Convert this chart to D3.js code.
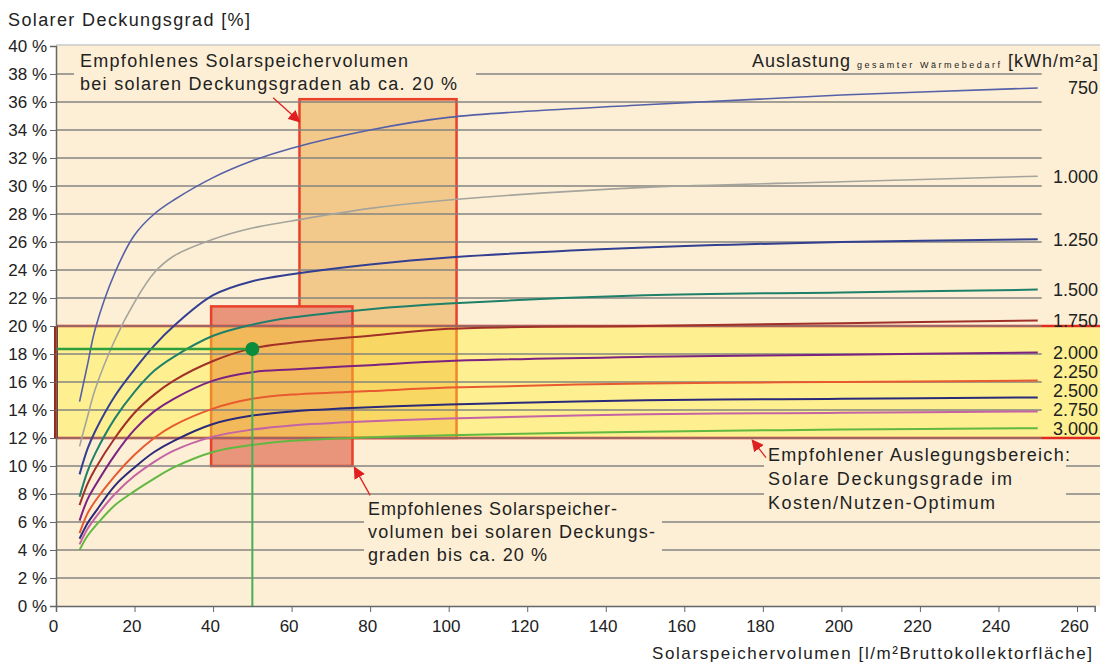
<!DOCTYPE html>
<html>
<head>
<meta charset="utf-8">
<script src="https://cdn.jsdelivr.net/npm/d3@7"></script>
<style>
  body { margin: 0; background: #fff; }
  text { font-family: "Liberation Sans", Arial, sans-serif; fill: #222; }
  .narrow { font-family: "Liberation Sans Narrow", "Arial Narrow", "Liberation Sans", sans-serif; }
</style>
</head>
<body>
<div id="chart"></div>
<script>
// storage volume [l/m² collector area] where the curves were read
const volumes = [6, 8, 10, 15, 20, 25, 30, 40, 50, 60, 80, 100, 150, 200, 250];

// solar fraction [%] per load (kWh/m²a)
const dg750  = [14.6, 17.2, 19.8, 23.8, 26.5, 28.0, 29.0, 30.6, 31.8, 32.7, 34.0, 34.9, 35.8, 36.5, 37.0];
const dg1000 = [11.4, 13.5, 15.5, 19.0, 21.7, 23.8, 25.0, 26.2, 27.0, 27.5, 28.4, 29.0, 29.9, 30.3, 30.7];
const dg1250 = [9.4, 11.2, 12.5, 15.0, 16.9, 18.6, 20.0, 22.2, 23.2, 23.7, 24.4, 24.9, 25.6, 26.0, 26.2];
const dg1500 = [7.8, 9.6, 10.9, 13.4, 15.3, 16.8, 17.8, 19.3, 20.1, 20.6, 21.2, 21.6, 22.2, 22.4, 22.6];
const dg1750 = [7.2, 8.7, 9.8, 12.0, 13.8, 15.1, 16.1, 17.5, 18.4, 18.8, 19.3, 19.8, 20.0, 20.2, 20.4];
const dg2000 = [6.1, 7.6, 8.6, 10.8, 12.6, 13.9, 14.8, 16.1, 16.7, 16.9, 17.2, 17.5, 17.8, 17.95, 18.1];
const dg2250 = [5.2, 6.6, 7.5, 9.3, 10.8, 12.0, 12.9, 14.1, 14.8, 15.1, 15.35, 15.6, 15.9, 16.0, 16.1];
const dg2500 = [4.8, 5.9, 6.7, 8.6, 9.9, 11.0, 11.8, 13.0, 13.6, 13.9, 14.2, 14.4, 14.7, 14.8, 14.9];
const dg2750 = [4.4, 5.5, 6.3, 8.0, 9.3, 10.3, 11.1, 12.1, 12.6, 12.9, 13.2, 13.4, 13.7, 13.8, 13.9];
const dg3000 = [4.0, 5.0, 5.7, 7.2, 8.2, 9.1, 9.9, 11.0, 11.5, 11.8, 12.05, 12.2, 12.45, 12.6, 12.7];

const loadLabels = ["750", "1.000", "1.250", "1.500", "1.750", "2.000", "2.250", "2.500", "2.750", "3.000"];
const seriesValues = [dg750, dg1000, dg1250, dg1500, dg1750, dg2000, dg2250, dg2500, dg2750, dg3000];
const lineColors = ["#5560a8", "#a4a49c", "#333f90", "#1f806a", "#a03028", "#7c2280", "#e85a30", "#2a2a78", "#c464a4", "#62b840"];

// recommended ranges
const bandRange = [12, 20];                      // Deckungsgrad band
const boxHigh = {x: [62, 102], y: [12, 36.2]};   // volume for fractions from ~20 %
const boxLow = {x: [39.5, 75.5], y: [10, 21.4]}; // volume for fractions up to ~20 %
const example = {x: 50, y: 18.36};               // marked design point

const yTicks = d3.range(0, 41, 2);
const xTicks = d3.range(0, 261, 20);

const width = 1100, height = 664;
const bg = "#fdefd5";

const x = d3.scaleLinear().domain([0, 260]).range([56, 1077]);
const y = d3.scaleLinear().domain([0, 40]).range([606, 46]);

const svg = d3.select("#chart").append("svg")
  .attr("width", width)
  .attr("height", height);

// plot background
svg.append("rect")
  .attr("x", x(0)).attr("y", y(40) - 1)
  .attr("width", width - x(0)).attr("height", y(0) - y(40) + 1)
  .attr("fill", bg);
svg.append("line")
  .attr("x1", x(0)).attr("x2", width)
  .attr("y1", y(40) - 1).attr("y2", y(40) - 1)
  .attr("stroke", "#c8c8c8").attr("stroke-width", 1.5);

// recommended storage boxes
[boxHigh, boxLow].forEach((b, i) => {
  svg.append("rect")
    .attr("x", x(b.x[0])).attr("y", y(b.y[1]))
    .attr("width", x(b.x[1]) - x(b.x[0]))
    .attr("height", y(b.y[0]) - y(b.y[1]))
    .attr("fill", i == 0 ? "#f3c98b" : "#e9957c")
    .attr("stroke", "#e8402a")
    .attr("stroke-width", 2.5);
});

// recommended band (yellow, over the boxes)
svg.append("rect")
  .attr("x", x(0)).attr("y", y(bandRange[1]))
  .attr("width", width - x(0))
  .attr("height", y(bandRange[0]) - y(bandRange[1]))
  .attr("fill", "rgb(255,240,40)")
  .attr("fill-opacity", 0.4);
bandRange.forEach(v => {
  svg.append("line")
    .attr("x1", x(0)).attr("x2", width)
    .attr("y1", y(v)).attr("y2", y(v))
    .attr("stroke", "#e02a20").attr("stroke-width", 2.5);
});

// grid lines
svg.append("g")
  .selectAll("line")
  .data(yTicks.filter(d => d > 0 && d < 40))
  .enter().append("line")
    .attr("x1", x(0))
    .attr("x2", d => d >= 12 ? x(251) : width)
    .attr("y1", d => y(d)).attr("y2", d => y(d))
    .attr("stroke", "#808080")
    .attr("stroke-opacity", 0.72)
    .attr("stroke-width", 2);

// left edge of the band
svg.append("line")
  .attr("x1", x(0)).attr("x2", x(0))
  .attr("y1", y(bandRange[1])).attr("y2", y(bandRange[0]))
  .attr("stroke", "#9c2418").attr("stroke-width", 4);

// text backgrounds that cut the grid
const textBoxes = [[74, 47, 402, 49], [364, 498, 298, 74], [764, 444, 302, 72]];
textBoxes.forEach(r => {
  svg.append("rect").attr("x", r[0]).attr("y", r[1]).attr("width", r[2]).attr("height", r[3]).attr("fill", bg);
});

// curves
const line = d3.line()
  .x((d, i) => x(volumes[i]))
  .y(d => y(d))
  .curve(d3.curveCatmullRom.alpha(0.5));

svg.append("g")
  .selectAll("path")
  .data(seriesValues)
  .enter().append("path")
    .attr("d", d => line(d))
    .attr("fill", "none")
    .attr("stroke", (d, i) => lineColors[i])
    .attr("stroke-width", (d, i) => i < 2 ? 1.6 : 2);

// curve labels, pushed apart from the bottom up
const labelY = seriesValues.map(s => y(s[s.length - 1]));
for (let i = labelY.length - 2; i >= 0; i--) {
  labelY[i] = Math.min(labelY[i], labelY[i + 1] - 19);
}
svg.append("g")
  .selectAll("text")
  .data(loadLabels)
  .enter().append("text")
    .attr("x", 1098)
    .attr("y", (d, i) => labelY[i])
    .attr("dy", "0.35em")
    .attr("text-anchor", "end")
    .attr("font-size", 18)
    .text(d => d);

// example point
svg.append("line")
  .attr("x1", x(0)).attr("x2", x(example.x))
  .attr("y1", y(example.y)).attr("y2", y(example.y))
  .attr("stroke", "#2f9e3c").attr("stroke-width", 2.5);
svg.append("line")
  .attr("x1", x(example.x)).attr("x2", x(example.x))
  .attr("y1", y(example.y)).attr("y2", y(0))
  .attr("stroke", "#46b055").attr("stroke-width", 2);
svg.append("circle")
  .attr("cx", x(example.x)).attr("cy", y(example.y))
  .attr("r", 7)
  .attr("fill", "#0b8c3c");

// axes
const yAxis = svg.append("g")
  .attr("transform", `translate(${x(0)},0)`)
  .call(d3.axisLeft(y).tickValues(yTicks).tickSize(6).tickFormat(d => d + " %"));
yAxis.selectAll("text").attr("font-size", 17).attr("x", -9).style("font-family", null);
yAxis.selectAll("line").attr("stroke", "#666");
yAxis.select(".domain").attr("stroke", "#666").attr("stroke-width", 1.5);

const xAxisScale = d3.scaleLinear().domain([0, 264.5]).range([x(0), x(264.5)]);
const xAxis = svg.append("g")
  .attr("transform", `translate(0,${y(0)})`)
  .call(d3.axisBottom(xAxisScale).tickValues(xTicks).tickSize(6));
xAxis.selectAll("text")
  .attr("class", "narrow")
  .attr("font-size", 17)
  .attr("y", 14)
  .attr("dx", -3)
  .style("font-family", null);
xAxis.selectAll("line").attr("stroke", "#666");
xAxis.select(".domain").attr("stroke", "#666").attr("stroke-width", 1.5);

// arrows
svg.append("defs").append("marker")
  .attr("id", "head")
  .attr("viewBox", "0 0 10 10")
  .attr("refX", 9).attr("refY", 5)
  .attr("markerWidth", 12).attr("markerHeight", 12)
  .attr("markerUnits", "userSpaceOnUse")
  .attr("orient", "auto")
  .append("path").attr("d", "M0,0 L10,5 L0,10 Z").attr("fill", "#e02020");

const arrows = [
  {from: [55.3, 36.3], to: [62, 34.6]},
  {from: [80, 7.9], to: [76, 9.9]},
  {from: [180.8, 10.6], to: [177.3, 11.85]}
];
arrows.forEach(a => {
  svg.append("line")
    .attr("x1", x(a.from[0])).attr("y1", y(a.from[1]))
    .attr("x2", x(a.to[0])).attr("y2", y(a.to[1]))
    .attr("stroke", "#e02020").attr("stroke-width", 1.3)
    .attr("marker-end", "url(#head)");
});

// texts
function addText(str, tx, ty, len, size, cls) {
  const t = svg.append("text")
    .attr("x", tx).attr("y", ty)
    .attr("font-size", size || 18)
    .text(str);
  if (len) t.attr("textLength", len).attr("lengthAdjust", "spacing");
  if (cls) t.attr("class", cls);
  return t;
}

addText("Solarer Deckungsgrad [%]", 8, 26, 242, 18);

addText("Empfohlenes Solarspeichervolumen", 80, 67, 328);
addText("bei solaren Deckungsgraden ab ca. 20 %", 80, 90, 377);

addText("Empfohlenes Solarspeicher-", 368, 515, 249);
addText("volumen bei solaren Deckungs-", 368, 538, 287);
addText("graden bis ca. 20 %", 368, 561, 179);

addText("Empfohlener Auslegungsbereich:", 768, 461, 302);
addText("Solare Deckungsgrade im", 768, 485, 244);
addText("Kosten/Nutzen-Optimum", 768, 509, 227);

addText("Auslastung", 752, 67, 98);
addText("gesamter Wärmebedarf", 857, 68, 143, 9).attr("fill", "#555");
addText("[kWh/m²a]", 1008, 67, 90);

addText("Solarspeichervolumen [l/m²Bruttokollektorfläche]", 652, 659, 440, 17, "narrow");
</script>
</body>
</html>
